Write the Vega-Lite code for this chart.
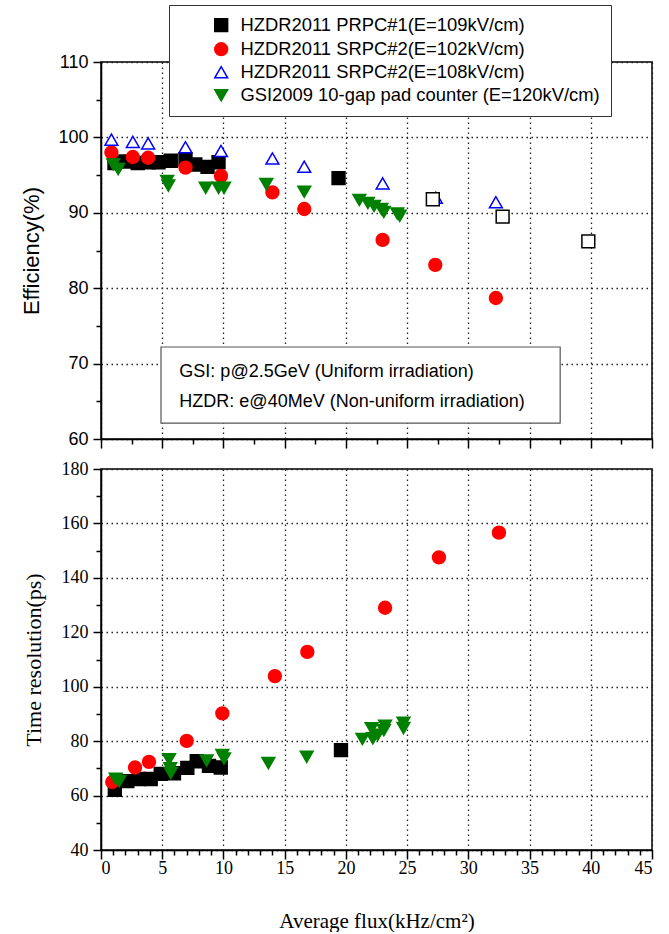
{
  "$schema": "https://vega.github.io/schema/vega-lite/v6.json",
  "background": "white",
  "padding": {"left": 20, "top": 3, "right": 10, "bottom": 0},
  "spacing": 9,
  "config": {
    "view": {"stroke": "black", "strokeWidth": 1.5},
    "axis": {"labelColor": "black", "titleColor": "black", "titleFontWeight": "normal", "domainColor": "black", "tickColor": "black"}
  },
  "datasets": {
    "efficiency": [
      {"flux": 1.1, "value": 96.6, "series": "HZDR2011 PRPC#1(E=109kV/cm)"},
      {"flux": 2.0, "value": 96.8, "series": "HZDR2011 PRPC#1(E=109kV/cm)"},
      {"flux": 3.0, "value": 96.6, "series": "HZDR2011 PRPC#1(E=109kV/cm)"},
      {"flux": 3.9, "value": 96.7, "series": "HZDR2011 PRPC#1(E=109kV/cm)"},
      {"flux": 4.7, "value": 96.7, "series": "HZDR2011 PRPC#1(E=109kV/cm)"},
      {"flux": 5.7, "value": 96.9, "series": "HZDR2011 PRPC#1(E=109kV/cm)"},
      {"flux": 6.9, "value": 97.1, "series": "HZDR2011 PRPC#1(E=109kV/cm)"},
      {"flux": 7.7, "value": 96.4, "series": "HZDR2011 PRPC#1(E=109kV/cm)"},
      {"flux": 8.7, "value": 96.1, "series": "HZDR2011 PRPC#1(E=109kV/cm)"},
      {"flux": 9.6, "value": 96.7, "series": "HZDR2011 PRPC#1(E=109kV/cm)"},
      {"flux": 19.4, "value": 94.6, "series": "HZDR2011 PRPC#1(E=109kV/cm)"},
      {"flux": 0.85, "value": 98.0, "series": "HZDR2011 SRPC#2(E=102kV/cm)"},
      {"flux": 2.6, "value": 97.4, "series": "HZDR2011 SRPC#2(E=102kV/cm)"},
      {"flux": 3.85, "value": 97.3, "series": "HZDR2011 SRPC#2(E=102kV/cm)"},
      {"flux": 6.9, "value": 96.0, "series": "HZDR2011 SRPC#2(E=102kV/cm)"},
      {"flux": 9.8, "value": 94.9, "series": "HZDR2011 SRPC#2(E=102kV/cm)"},
      {"flux": 14.0, "value": 92.7, "series": "HZDR2011 SRPC#2(E=102kV/cm)"},
      {"flux": 16.6, "value": 90.5, "series": "HZDR2011 SRPC#2(E=102kV/cm)"},
      {"flux": 23.0, "value": 86.4, "series": "HZDR2011 SRPC#2(E=102kV/cm)"},
      {"flux": 27.3, "value": 83.1, "series": "HZDR2011 SRPC#2(E=102kV/cm)"},
      {"flux": 32.25, "value": 78.7, "series": "HZDR2011 SRPC#2(E=102kV/cm)"},
      {"flux": 0.85, "value": 99.7, "series": "HZDR2011 SRPC#2(E=108kV/cm)"},
      {"flux": 2.6, "value": 99.4, "series": "HZDR2011 SRPC#2(E=108kV/cm)"},
      {"flux": 3.85, "value": 99.2, "series": "HZDR2011 SRPC#2(E=108kV/cm)"},
      {"flux": 6.9, "value": 98.7, "series": "HZDR2011 SRPC#2(E=108kV/cm)"},
      {"flux": 9.8, "value": 98.2, "series": "HZDR2011 SRPC#2(E=108kV/cm)"},
      {"flux": 14.0, "value": 97.2, "series": "HZDR2011 SRPC#2(E=108kV/cm)"},
      {"flux": 16.6, "value": 96.1, "series": "HZDR2011 SRPC#2(E=108kV/cm)"},
      {"flux": 23.0, "value": 93.9, "series": "HZDR2011 SRPC#2(E=108kV/cm)"},
      {"flux": 27.35, "value": 92.0, "series": "HZDR2011 SRPC#2(E=108kV/cm)"},
      {"flux": 32.25, "value": 91.4, "series": "HZDR2011 SRPC#2(E=108kV/cm)"},
      {"flux": 1.0, "value": 96.4, "series": "GSI2009 10-gap pad counter (E=120kV/cm)"},
      {"flux": 1.4, "value": 95.8, "series": "GSI2009 10-gap pad counter (E=120kV/cm)"},
      {"flux": 5.4, "value": 94.2, "series": "GSI2009 10-gap pad counter (E=120kV/cm)"},
      {"flux": 5.5, "value": 93.6, "series": "GSI2009 10-gap pad counter (E=120kV/cm)"},
      {"flux": 8.55, "value": 93.3, "series": "GSI2009 10-gap pad counter (E=120kV/cm)"},
      {"flux": 9.6, "value": 93.3, "series": "GSI2009 10-gap pad counter (E=120kV/cm)"},
      {"flux": 10.05, "value": 93.3, "series": "GSI2009 10-gap pad counter (E=120kV/cm)"},
      {"flux": 13.5, "value": 93.8, "series": "GSI2009 10-gap pad counter (E=120kV/cm)"},
      {"flux": 16.6, "value": 92.8, "series": "GSI2009 10-gap pad counter (E=120kV/cm)"},
      {"flux": 21.1, "value": 91.7, "series": "GSI2009 10-gap pad counter (E=120kV/cm)"},
      {"flux": 21.8, "value": 91.3, "series": "GSI2009 10-gap pad counter (E=120kV/cm)"},
      {"flux": 22.3, "value": 90.9, "series": "GSI2009 10-gap pad counter (E=120kV/cm)"},
      {"flux": 22.9, "value": 90.5, "series": "GSI2009 10-gap pad counter (E=120kV/cm)"},
      {"flux": 23.1, "value": 90.1, "series": "GSI2009 10-gap pad counter (E=120kV/cm)"},
      {"flux": 24.2, "value": 89.9, "series": "GSI2009 10-gap pad counter (E=120kV/cm)"},
      {"flux": 24.4, "value": 89.6, "series": "GSI2009 10-gap pad counter (E=120kV/cm)"},
      {"flux": 27.1, "value": 91.8, "series": "HZDR2011 PRPC#1 (open)"},
      {"flux": 32.8, "value": 89.5, "series": "HZDR2011 PRPC#1 (open)"},
      {"flux": 39.8, "value": 86.2, "series": "HZDR2011 PRPC#1 (open)"}
    ],
    "timeres": [
      {"flux": 1.13, "value": 62.1, "series": "HZDR2011 PRPC#1(E=109kV/cm)"},
      {"flux": 2.15, "value": 65.3, "series": "HZDR2011 PRPC#1(E=109kV/cm)"},
      {"flux": 3.1, "value": 66.1, "series": "HZDR2011 PRPC#1(E=109kV/cm)"},
      {"flux": 4.06, "value": 66.1, "series": "HZDR2011 PRPC#1(E=109kV/cm)"},
      {"flux": 4.88, "value": 68.0, "series": "HZDR2011 PRPC#1(E=109kV/cm)"},
      {"flux": 5.96, "value": 68.2, "series": "HZDR2011 PRPC#1(E=109kV/cm)"},
      {"flux": 7.05, "value": 70.2, "series": "HZDR2011 PRPC#1(E=109kV/cm)"},
      {"flux": 7.82, "value": 72.6, "series": "HZDR2011 PRPC#1(E=109kV/cm)"},
      {"flux": 8.82, "value": 70.9, "series": "HZDR2011 PRPC#1(E=109kV/cm)"},
      {"flux": 9.78, "value": 70.3, "series": "HZDR2011 PRPC#1(E=109kV/cm)"},
      {"flux": 19.6, "value": 76.7, "series": "HZDR2011 PRPC#1(E=109kV/cm)"},
      {"flux": 0.92, "value": 65.0, "series": "HZDR2011 SRPC#2(E=102kV/cm)"},
      {"flux": 2.78, "value": 70.3, "series": "HZDR2011 SRPC#2(E=102kV/cm)"},
      {"flux": 3.92, "value": 72.4, "series": "HZDR2011 SRPC#2(E=102kV/cm)"},
      {"flux": 7.0, "value": 80.1, "series": "HZDR2011 SRPC#2(E=102kV/cm)"},
      {"flux": 9.91, "value": 90.2, "series": "HZDR2011 SRPC#2(E=102kV/cm)"},
      {"flux": 14.2, "value": 103.9, "series": "HZDR2011 SRPC#2(E=102kV/cm)"},
      {"flux": 16.85, "value": 112.8, "series": "HZDR2011 SRPC#2(E=102kV/cm)"},
      {"flux": 23.2, "value": 129.0, "series": "HZDR2011 SRPC#2(E=102kV/cm)"},
      {"flux": 27.6, "value": 147.5, "series": "HZDR2011 SRPC#2(E=102kV/cm)"},
      {"flux": 32.5, "value": 156.6, "series": "HZDR2011 SRPC#2(E=102kV/cm)"},
      {"flux": 1.2, "value": 66.2, "series": "GSI2009 10-gap pad counter (E=120kV/cm)"},
      {"flux": 1.5, "value": 65.3, "series": "GSI2009 10-gap pad counter (E=120kV/cm)"},
      {"flux": 5.56, "value": 73.3, "series": "GSI2009 10-gap pad counter (E=120kV/cm)"},
      {"flux": 5.65, "value": 70.0, "series": "GSI2009 10-gap pad counter (E=120kV/cm)"},
      {"flux": 5.7, "value": 68.3, "series": "GSI2009 10-gap pad counter (E=120kV/cm)"},
      {"flux": 8.63, "value": 72.9, "series": "GSI2009 10-gap pad counter (E=120kV/cm)"},
      {"flux": 9.91, "value": 74.9, "series": "GSI2009 10-gap pad counter (E=120kV/cm)"},
      {"flux": 10.05, "value": 73.6, "series": "GSI2009 10-gap pad counter (E=120kV/cm)"},
      {"flux": 13.67, "value": 71.9, "series": "GSI2009 10-gap pad counter (E=120kV/cm)"},
      {"flux": 16.8, "value": 74.2, "series": "GSI2009 10-gap pad counter (E=120kV/cm)"},
      {"flux": 21.35, "value": 80.8, "series": "GSI2009 10-gap pad counter (E=120kV/cm)"},
      {"flux": 22.1, "value": 84.7, "series": "GSI2009 10-gap pad counter (E=120kV/cm)"},
      {"flux": 22.2, "value": 81.0, "series": "GSI2009 10-gap pad counter (E=120kV/cm)"},
      {"flux": 22.6, "value": 82.3, "series": "GSI2009 10-gap pad counter (E=120kV/cm)"},
      {"flux": 23.1, "value": 84.0, "series": "GSI2009 10-gap pad counter (E=120kV/cm)"},
      {"flux": 23.2, "value": 85.6, "series": "GSI2009 10-gap pad counter (E=120kV/cm)"},
      {"flux": 24.7, "value": 86.7, "series": "GSI2009 10-gap pad counter (E=120kV/cm)"},
      {"flux": 24.7, "value": 84.8, "series": "GSI2009 10-gap pad counter (E=120kV/cm)"}
    ]
  },
  "resolve": {
    "scale": {"shape": "independent", "fill": "independent", "stroke": "independent"},
    "legend": {"shape": "independent", "fill": "independent", "stroke": "independent"}
  },
  "vconcat": [
    {
      "width": 551,
      "height": 377,
      "layer": [
        {
          "data": {"values": [{"x1": 4.9, "x2": 37.5, "y1": 62.1, "y2": 72.2}]},
          "mark": {"type": "rect", "fill": "white", "stroke": "#555555", "strokeWidth": 1.2},
          "encoding": {
            "x": {
              "field": "x1", "type": "quantitative",
              "scale": {"domain": [0, 45], "nice": false, "zero": false},
              "axis": {"orient": "bottom", "values": [0, 5, 10, 15, 20, 25, 30, 35, 40, 45], "labels": false, "title": null,
                       "tickSize": 9, "tickWidth": 1.5, "domainWidth": 1.5,
                       "grid": true, "gridColor": "#222222", "gridDash": [1.5, 3.5], "gridWidth": 1.3}
            },
            "x2": {"field": "x2"},
            "y": {
              "field": "y1", "type": "quantitative",
              "scale": {"domain": [60, 110], "nice": false, "zero": false},
              "axis": {"orient": "left", "values": [60, 70, 80, 90, 100, 110], "title": "Efficiency(%)",
                       "titleFont": "Liberation Sans", "titleFontSize": 22, "titlePadding": 14,
                       "labelFont": "Liberation Sans", "labelFontSize": 18, "labelPadding": 5,
                       "tickSize": 8, "tickWidth": 1.5, "domainWidth": 1.5,
                       "grid": true, "gridColor": "#222222", "gridDash": [1.5, 3.5], "gridWidth": 1.3}
            },
            "y2": {"field": "y2"}
          }
        },
        {
          "data": {"values": [
            {"x": 6.4, "y": 68.9, "label": "GSI: p@2.5GeV (Uniform irradiation)"},
            {"x": 6.4, "y": 64.9, "label": "HZDR: e@40MeV (Non-uniform irradiation)"}
          ]},
          "mark": {"type": "text", "align": "left", "baseline": "middle", "font": "Liberation Sans", "fontSize": 18, "color": "black"},
          "encoding": {
            "x": {"field": "x", "type": "quantitative",
                  "axis": {"orient": "bottom", "values": [2.5, 7.5, 12.5, 17.5, 22.5, 27.5, 32.5, 37.5, 42.5], "labels": false, "title": null,
                           "tickSize": 5, "tickWidth": 1.5, "domain": false, "grid": false}},
            "y": {"field": "y", "type": "quantitative",
                  "axis": {"orient": "left", "values": [65, 75, 85, 95, 105], "labels": false, "title": null,
                           "tickSize": 5, "tickWidth": 1.5, "domain": false, "grid": false}},
            "text": {"field": "label"}
          }
        },
        {
          "data": {"name": "efficiency"},
          "mark": {"type": "point", "size": 165, "strokeWidth": 1.5, "opacity": 1},
          "encoding": {
            "x": {"field": "flux", "type": "quantitative", "axis": null},
            "y": {"field": "value", "type": "quantitative", "axis": null},
            "shape": {
              "field": "series", "type": "nominal",
              "scale": {
                "domain": ["HZDR2011 PRPC#1(E=109kV/cm)", "HZDR2011 SRPC#2(E=102kV/cm)", "HZDR2011 SRPC#2(E=108kV/cm)", "GSI2009 10-gap pad counter (E=120kV/cm)", "HZDR2011 PRPC#1 (open)"],
                "range": ["square", "circle", "triangle-up", "triangle-down", "square"]
              },
              "legend": {
                "title": null, "orient": "none", "legendX": 68, "legendY": -57,
                "values": ["HZDR2011 PRPC#1(E=109kV/cm)", "HZDR2011 SRPC#2(E=102kV/cm)", "HZDR2011 SRPC#2(E=108kV/cm)", "GSI2009 10-gap pad counter (E=120kV/cm)"],
                "labelFont": "Liberation Sans", "labelFontSize": 18.4, "labelColor": "black", "labelLimit": 600,
                "symbolSize": 165, "symbolStrokeWidth": 1.5, "symbolOpacity": 1,
                "padding": 11, "rowPadding": 4, "symbolOffset": 32, "labelOffset": 10,
                "strokeColor": "#333333", "fillColor": "white"
              }
            },
            "fill": {
              "field": "series", "type": "nominal",
              "scale": {
                "domain": ["HZDR2011 PRPC#1(E=109kV/cm)", "HZDR2011 SRPC#2(E=102kV/cm)", "HZDR2011 SRPC#2(E=108kV/cm)", "GSI2009 10-gap pad counter (E=120kV/cm)", "HZDR2011 PRPC#1 (open)"],
                "range": ["black", "#ff0000", "white", "#008000", "white"]
              }
            },
            "stroke": {
              "field": "series", "type": "nominal",
              "scale": {
                "domain": ["HZDR2011 PRPC#1(E=109kV/cm)", "HZDR2011 SRPC#2(E=102kV/cm)", "HZDR2011 SRPC#2(E=108kV/cm)", "GSI2009 10-gap pad counter (E=120kV/cm)", "HZDR2011 PRPC#1 (open)"],
                "range": ["black", "#ff0000", "#0000ff", "#008000", "black"]
              }
            }
          }
        }
      ],
      "resolve": {"axis": {"x": "independent", "y": "independent"}}
    },
    {
      "width": 551,
      "height": 381,
      "layer": [
        {
          "data": {"name": "timeres"},
          "mark": {"type": "point", "opacity": 0},
          "encoding": {
            "x": {"field": "flux", "type": "quantitative",
                  "scale": {"domain": [0, 45], "nice": false, "zero": false},
                  "axis": {"orient": "bottom", "values": [1, 2, 3, 4, 6, 7, 8, 9, 11, 12, 13, 14, 16, 17, 18, 19, 21, 22, 23, 24, 26, 27, 28, 29, 31, 32, 33, 34, 36, 37, 38, 39, 41, 42, 43, 44],
                           "labels": false, "title": null, "tickSize": 5, "tickWidth": 1.5, "domain": false, "grid": false}},
            "y": {"field": "value", "type": "quantitative",
                  "scale": {"domain": [40, 180], "nice": false, "zero": false},
                  "axis": {"orient": "left", "values": [50, 70, 90, 110, 130, 150, 170], "labels": false, "title": null,
                           "tickSize": 5, "tickWidth": 1.5, "domain": false, "grid": false}}
          }
        },
        {
          "data": {"name": "timeres"},
          "mark": {"type": "point", "size": 165, "strokeWidth": 1.5, "opacity": 1},
          "encoding": {
            "x": {"field": "flux", "type": "quantitative",
                  "axis": {"orient": "bottom", "values": [0, 5, 10, 15, 20, 25, 30, 35, 40, 45], "title": "Average flux(kHz/cm²)",
                           "titleFont": "Liberation Serif", "titleFontSize": 21, "titlePadding": 33,
                           "labelFont": "Liberation Serif", "labelFontSize": 18, "labelPadding": 0,
                           "tickSize": 9, "tickWidth": 1.5, "domainWidth": 1.5,
                           "grid": true, "gridColor": "#222222", "gridDash": [1.5, 3.5], "gridWidth": 1.3}},
            "y": {"field": "value", "type": "quantitative",
                  "axis": {"orient": "left", "values": [40, 60, 80, 100, 120, 140, 160, 180], "title": "Time resolution(ps)",
                           "titleFont": "Liberation Serif", "titleFontSize": 22, "titlePadding": 16,
                           "labelFont": "Liberation Serif", "labelFontSize": 18, "labelPadding": 5,
                           "tickSize": 8, "tickWidth": 1.5, "domainWidth": 1.5,
                           "grid": true, "gridColor": "#222222", "gridDash": [1.5, 3.5], "gridWidth": 1.3}},
            "shape": {
              "field": "series", "type": "nominal",
              "scale": {
                "domain": ["HZDR2011 PRPC#1(E=109kV/cm)", "HZDR2011 SRPC#2(E=102kV/cm)", "GSI2009 10-gap pad counter (E=120kV/cm)"],
                "range": ["square", "circle", "triangle-down"]
              },
              "legend": null
            },
            "fill": {
              "field": "series", "type": "nominal",
              "scale": {
                "domain": ["HZDR2011 PRPC#1(E=109kV/cm)", "HZDR2011 SRPC#2(E=102kV/cm)", "GSI2009 10-gap pad counter (E=120kV/cm)"],
                "range": ["black", "#ff0000", "#008000"]
              },
              "legend": null
            },
            "stroke": {
              "field": "series", "type": "nominal",
              "scale": {
                "domain": ["HZDR2011 PRPC#1(E=109kV/cm)", "HZDR2011 SRPC#2(E=102kV/cm)", "GSI2009 10-gap pad counter (E=120kV/cm)"],
                "range": ["black", "#ff0000", "#008000"]
              },
              "legend": null
            }
          }
        }
      ],
      "resolve": {"axis": {"x": "independent", "y": "independent"}}
    }
  ]
}
